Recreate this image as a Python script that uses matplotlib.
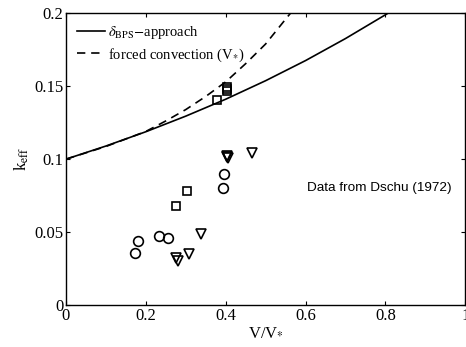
import matplotlib
matplotlib.use('Agg')
import matplotlib.pyplot as plt
from matplotlib.ticker import FuncFormatter

plt.rcParams['font.family'] = ['Liberation Serif', 'DejaVu Serif']
plt.rcParams['mathtext.fontset'] = 'stix'

# curves
v_bps = [0.0, 0.1, 0.2, 0.3, 0.4, 0.5, 0.6, 0.7, 0.8, 0.806]
k_bps = [0.100, 0.109, 0.1188, 0.1295, 0.1411, 0.1538, 0.1676, 0.1827, 0.199, 0.200]

v_forced = [0.0, 0.1, 0.2, 0.25, 0.3, 0.35, 0.4, 0.45, 0.5, 0.55, 0.562]
k_forced = [0.100, 0.1087, 0.119, 0.1262, 0.134, 0.143, 0.153, 0.1655, 0.179, 0.196, 0.200]

# Dschu (1972) data
v_circ = [0.174, 0.181, 0.2325, 0.256, 0.393, 0.396]
k_circ = [0.036, 0.044, 0.047, 0.0457, 0.080, 0.090]

v_sq = [0.275, 0.304, 0.377, 0.404, 0.404, 0.404]
k_sq = [0.068, 0.078, 0.1404, 0.1465, 0.148, 0.1495]

v_tri = [0.276, 0.280, 0.3075, 0.3375, 0.403, 0.404, 0.405, 0.466]
k_tri = [0.032, 0.030, 0.035, 0.049, 0.1025, 0.1015, 0.1005, 0.104]

fig = plt.figure(figsize=(4.66, 3.47), dpi=100)
ax = fig.add_axes([0.1416, 0.121, 0.857, 0.8407])

ax.plot(v_bps, k_bps, 'k-', lw=1.2, label=r'$\delta_{\rm BPS}$$-$approach')
ax.plot(v_forced, k_forced, 'k--', lw=1.2, dashes=(5, 3.5),
        label=r'forced convection (V$_{*}$)')

mk = dict(linestyle='none', mfc='none', mec='k', mew=1.2)
ax.plot(v_circ, k_circ, marker='o', ms=7, **mk)
ax.plot(v_sq, k_sq, marker='s', ms=6, **mk)
ax.plot(v_tri, k_tri, marker='v', ms=7.5, **mk)

ax.text(0.6025, 0.080, 'Data from Dschu (1972)', fontsize=9.7,
        family=['Liberation Sans', 'DejaVu Sans'], va='center', ha='left')

ax.set_xlim(0, 1)
ax.set_ylim(0, 0.2)
ax.set_xticks([0, 0.2, 0.4, 0.6, 0.8, 1])
ax.set_yticks([0, 0.05, 0.1, 0.15, 0.2])
ax.xaxis.set_major_formatter(FuncFormatter(lambda x, p: '%g' % x))
ax.yaxis.set_major_formatter(FuncFormatter(lambda y, p: '%g' % y))
ax.tick_params(direction='in', top=True, right=True, length=3,
               labelsize=12, pad=2)
for s in ax.spines.values():
    s.set_linewidth(1.0)

ax.set_xlabel(r'V/V$_{*}$', fontsize=12, labelpad=0)
ax.set_ylabel(r'k$_{\rm eff}$', fontsize=12, labelpad=2)

ax.legend(loc='upper left', frameon=False, fontsize=10.5, handlelength=1.9,
          handletextpad=0.2, borderaxespad=0.35, labelspacing=0.35)

fig.savefig('out.png', dpi=100)
